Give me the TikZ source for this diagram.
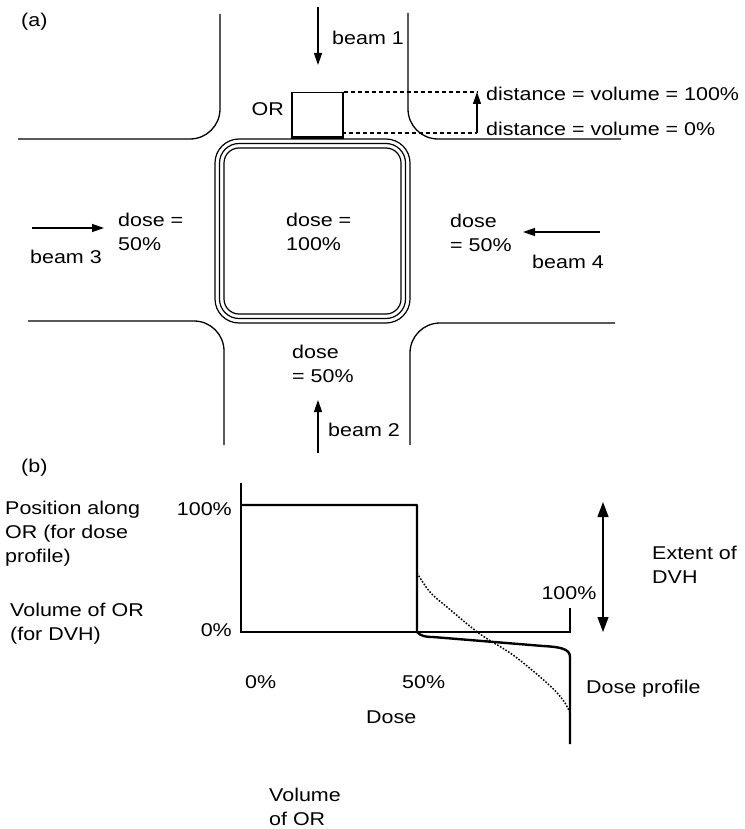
\documentclass[tikz,border=0pt]{standalone}
\usepackage{fontspec}
\setmainfont{Liberation Sans}[FakeStretch=1.16]
\usetikzlibrary{arrows.meta}
\begin{document}
\begin{tikzpicture}[x=1pt,y=-1pt,
  every node/.style={font=\fontsize{18.5}{24}\selectfont, inner sep=0pt, align=left},
  wall/.style={line width=1.3pt, rounded corners=30pt},
  ring/.style={line width=1.2pt},
  beam/.style={line width=1.3pt, -{Triangle[length=12pt,width=8pt]}},
  guide/.style={line width=1.1pt, dash pattern=on 4pt off 3pt},
  axis/.style={line width=1.2pt},
  curve/.style={line width=2.4pt, line join=round},
  profile/.style={line width=1.5pt, dash pattern=on 1.6pt off 1.6pt},
  lbl/.style={anchor=west}]
\useasboundingbox (0,0) rectangle (744,829);
\fill[white] (0,0) rectangle (744,829);

% ---------- (a) ----------
\node[lbl] (la) at (21,22) {(a)};

% walls (corners of the field)
\draw[wall] (220,14) |- (18,139);
\draw[wall] (408,13) |- (621,139);
\draw[wall] (28,321) -| (224,445);
\draw[wall] (615,323) -| (410,445);

% triple rounded target
\draw[ring, rounded corners=24pt] (215,139) rectangle (410,323);
\draw[ring, rounded corners=19.5pt] (219.5,143.5) rectangle (405.5,318.5);
\draw[ring, rounded corners=15pt] (224,148) rectangle (401,314);

% OR box
\node[draw, line width=1.5pt, minimum width=51pt, minimum height=44pt, anchor=north west] (or) at (291,92) {};
\draw[line width=3pt] (or.south west) -- (or.south east);
\node[anchor=east] (orl) at (284,109) {OR};

% distance guides
\coordinate (d100) at (477,92);
\coordinate (d0) at (477,133);
\coordinate (orb) at (342,133);
\draw[guide] (or.north east) -- (d100);
\draw[guide] (orb) -- (d0);
\draw[beam] (d0) -- (d100);
\node[lbl] (t100) at (486,94) {distance = volume = 100\%};
\node[lbl] (t0) at (486,129) {distance = volume = 0\%};

% beams
\coordinate (b1s) at (318,7);   \coordinate (b1e) at (318,65);
\coordinate (b2s) at (318,453); \coordinate (b2e) at (318,400);
\coordinate (b3s) at (32,228);  \coordinate (b3e) at (104,228);
\coordinate (b4s) at (600,232); \coordinate (b4e) at (523,232);
\draw[beam] (b1s) -- (b1e);
\draw[beam] (b2s) -- (b2e);
\draw[beam] (b3s) -- (b3e);
\draw[beam] (b4s) -- (b4e);
\node[lbl] (lb1) at (332,38) {beam 1};
\node[lbl] (lb2) at (328,430) {beam 2};
\node[lbl] (lb3) at (30,257) {beam 3};
\node[lbl] (lb4) at (532,262) {beam 4};

% doses
\node[lbl] (dl) at (118,232) {dose =\\50\%};
\node[lbl] (dc) at (286,232) {dose =\\100\%};
\node[lbl] (dr) at (450,233) {dose\\= 50\%};
\node[lbl] (db) at (292,364) {dose\\= 50\%};

% ---------- (b) ----------
\node[lbl] (lbb) at (21,468) {(b)};
\node[lbl] (pos) at (5,534) {Position along\\OR (for dose\\profile)};
\node[lbl] (vol) at (10,624) {Volume of OR\\(for DVH)};
\node[anchor=east] (y100) at (232,509) {100\%};
\node[anchor=east] (y0) at (232,630) {0\%};
\node[lbl] (x0) at (245,682) {0\%};
\node[lbl] (x50) at (402,682) {50\%};
\node[lbl] (xd) at (366,717) {Dose};
\node[lbl] (dp) at (586,689) {Dose profile};
\node[lbl] (vor) at (269,807) {Volume\\of OR};
\node (r100) at (569,593) {100\%};
\node[lbl] (ext) at (652,565) {Extent of\\DVH};

\coordinate (o) at (241,632);
\coordinate (ytop) at (241,483);
\coordinate (xend) at (570,632);
\coordinate (tick) at (570,608);
\draw[axis] (ytop) -- (o) -- (xend) -- (tick);

\draw[curve] (241,505) -- (417,505) -- (417,632)
  .. controls (421,636) and (425,637) .. (433,637) -- (543,646)
  .. controls (561,647) and (570,649) .. (570,657) -- (570,744);

\draw[profile] plot[smooth, tension=0.6] coordinates
  {(417,573) (430,592) (447,607) (480,634) (513,655) (547,683) (563,700) (570,713)};

\coordinate (et) at (603,502);
\coordinate (eb) at (603,632);
\draw[line width=1.2pt, {Triangle[length=15pt,width=11pt]}-{Triangle[length=15pt,width=11pt]}] (et) -- (eb);
\end{tikzpicture}
\end{document}
